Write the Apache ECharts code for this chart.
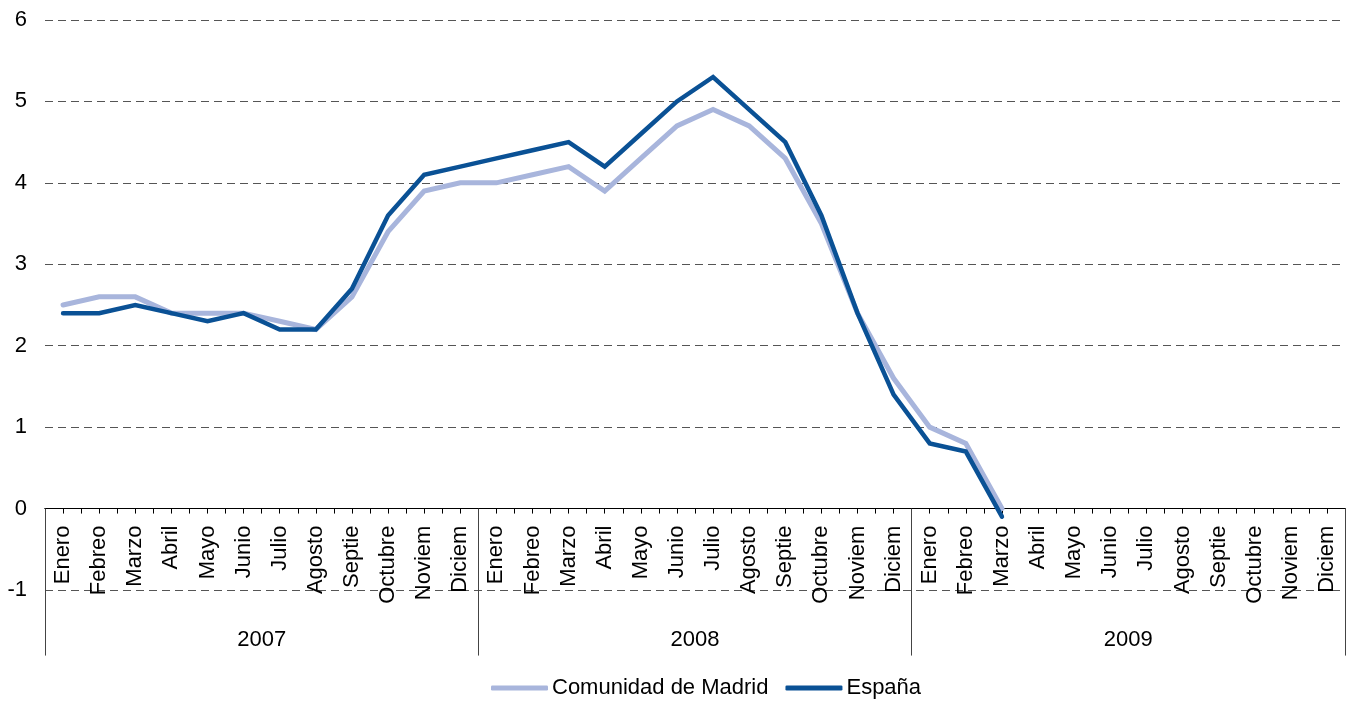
<!DOCTYPE html>
<html>
<head>
<meta charset="utf-8">
<script src="https://cdn.jsdelivr.net/npm/echarts@6/dist/echarts.min.js"></script>
<style>html,body{margin:0;padding:0;background:#fff}#c{width:1348px;height:706px}</style>
</head>
<body>
<div id="c"></div>
<script>
const monthNames = ['Enero','Febreo','Marzo','Abril','Mayo','Junio','Julio','Agosto','Septie','Octubre','Noviem','Diciem'];
const years = ['2007','2008','2009'];
const months = [].concat(monthNames, monthNames, monthNames);
const madrid = [2.5,2.6,2.6,2.4,2.4,2.4,2.3,2.2,2.6,3.4,3.9,4.0,
                4.0,4.1,4.2,3.9,4.3,4.7,4.9,4.7,4.3,3.5,2.4,1.6,
                1.0,0.8,0.0,null,null,null,null,null,null,null,null,null];
const espana = [2.4,2.4,2.5,2.4,2.3,2.4,2.2,2.2,2.7,3.6,4.1,4.2,
                4.3,4.4,4.5,4.2,4.6,5.0,5.3,4.9,4.5,3.6,2.4,1.4,
                0.8,0.7,-0.1,null,null,null,null,null,null,null,null,null];
const yMin = -1, yMax = 6, yInterval = 1;

const W = 1348, H = 706;
const gridTop = 20, gridBottom = 116;
const plotH = H - gridTop - gridBottom;
// distance (px) from grid bottom (value yMin) up to value 0
const zeroOffset = -plotH * (0 - yMin) / (yMax - yMin);

const FONT = "'Liberation Sans', Arial, sans-serif";
const chart = echarts.init(document.getElementById('c'));
chart.setOption({
  animation: false,
  textStyle: {fontFamily: FONT, color: '#000'},
  grid: {left: 45, right: 3, top: gridTop, bottom: gridBottom, containLabel: false, outerBoundsMode: 'none'},
  legend: {
    left: 491, top: 677, padding: 0, itemWidth: 57, itemHeight: 5, itemGap: 17,
    icon: 'roundRect',
    textStyle: {fontSize: 22, color: '#000', fontFamily: FONT, padding: [0,0,0,-1]},
    data: ['Comunidad de Madrid', 'España']
  },
  xAxis: [
    {
      type: 'category', data: months, boundaryGap: true, position: 'bottom', offset: zeroOffset,
      axisLine: {onZero: false, lineStyle: {color: '#000', width: 1}},
      axisTick: {show: true, interval: 0, length: 5, lineStyle: {color: '#000'}},
      axisLabel: {interval: 0, rotate: 90, margin: 17, fontSize: 22, color: '#000', fontFamily: FONT},
      splitLine: {show: false}
    },
    {
      type: 'category', data: months, boundaryGap: true, position: 'bottom', offset: zeroOffset,
      axisLine: {show: false, onZero: false},
      axisTick: {show: true, interval: 0, alignWithLabel: true, length: 5, lineStyle: {color: '#000'}},
      axisLabel: {show: false},
      splitLine: {show: false}
    },
    {
      type: 'category', data: years, boundaryGap: true, position: 'bottom', offset: zeroOffset,
      axisLine: {show: true, onZero: false, lineStyle: {color: '#000'}},
      axisTick: {show: true, interval: 0, length: 147, lineStyle: {color: '#444'}},
      axisLabel: {interval: 0, margin: 120, fontSize: 22, color: '#000', fontFamily: FONT},
      splitLine: {show: false}
    }
  ],
  yAxis: {
    type: 'value', min: yMin, max: yMax, interval: yInterval,
    axisLine: {show: false}, axisTick: {show: false},
    axisLabel: {fontSize: 22, color: '#000', margin: 18, fontFamily: FONT},
    splitLine: {show: true, lineStyle: {color: '#555', type: [8, 5], width: 1}}
  },
  series: [
    {
      name: 'Comunidad de Madrid', type: 'line', data: madrid, xAxisIndex: 0,
      symbol: 'none', connectNulls: false,
      lineStyle: {color: '#A8B5DC', width: 5, cap: 'round', join: 'miter'},
      itemStyle: {color: '#A8B5DC'}
    },
    {
      name: 'España', type: 'line', data: espana, xAxisIndex: 0,
      symbol: 'none', connectNulls: false,
      lineStyle: {color: '#0A5195', width: 4.5, cap: 'round', join: 'miter'},
      itemStyle: {color: '#0A5195'}
    }
  ]
});
</script>
</body>
</html>
